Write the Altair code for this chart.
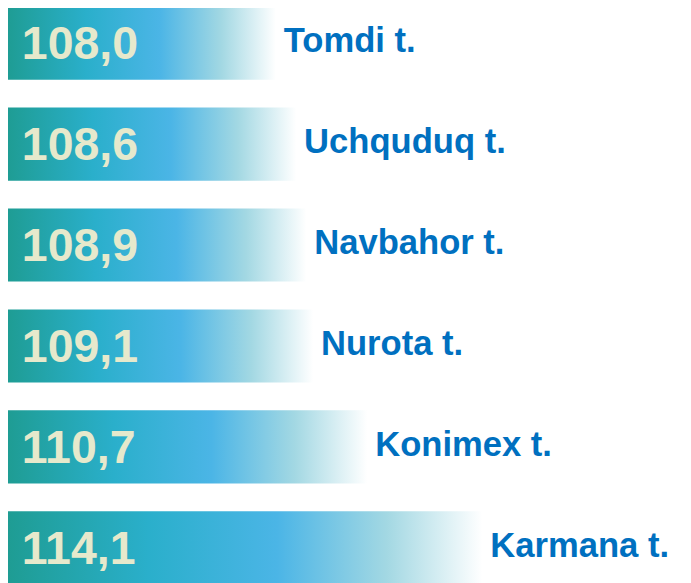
import altair as alt
import pandas as pd

categories = ["Tomdi t.", "Uchquduq  t.", "Navbahor t.", "Nurota t.", "Konimex t.", "Karmana  t."]
values = [108.0, 108.6, 108.9, 109.1, 110.7, 114.1]
value_labels = [f"{v:.1f}".replace(".", ",") for v in values]

df = pd.DataFrame({"cat": categories, "value": values, "label": value_labels})

grad = alt.Gradient(
    gradient="linear",
    stops=[
        alt.GradientStop(color="#1E9C92", offset=0.0),
        alt.GradientStop(color="#2AAFCB", offset=0.3),
        alt.GradientStop(color="#4BB5E6", offset=0.57),
        alt.GradientStop(color="#A3D8E3", offset=0.8),
        alt.GradientStop(color="#FFFFFF", offset=1.0),
    ],
    x1=0, x2=1, y1=0, y2=0,
)

y_enc = alt.Y(
    "cat:N",
    sort=categories,
    axis=None,
    scale=alt.Scale(range=[-5, 580], paddingInner=0.275, paddingOuter=0),
)
x_scale = alt.Scale(domain=[100, 114.1], range=[-3, 480], zero=False)

base = alt.Chart(df)

bars = base.mark_bar(color=grad, cornerRadius=0).encode(
    y=y_enc,
    x=alt.X("value:Q", scale=x_scale, axis=None),
    x2=alt.datum(100),
)

val_text = base.mark_text(
    align="left", baseline="middle", font="Liberation Sans", fontWeight="bold",
    fontSize=47, color="#E6E9CC", dy=2,
).encode(
    y=y_enc,
    x=alt.value(14),
    text="label:N",
)

cat_text = base.mark_text(
    align="left", baseline="middle", font="Liberation Sans", fontWeight="bold",
    fontSize=35, color="#0070C0", dx=8, dy=-2,
).encode(
    y=y_enc,
    x=alt.X("value:Q", scale=x_scale, axis=None),
    text="cat:N",
)

chart = (
    alt.layer(bars, val_text, cat_text)
    .properties(width=683, height=575, autosize=alt.AutoSizeParams(type="none"), padding=0, background="white")
    .configure_view(stroke=None)
)

chart.save("out.html", embed_options={"renderer": "svg", "actions": False})
